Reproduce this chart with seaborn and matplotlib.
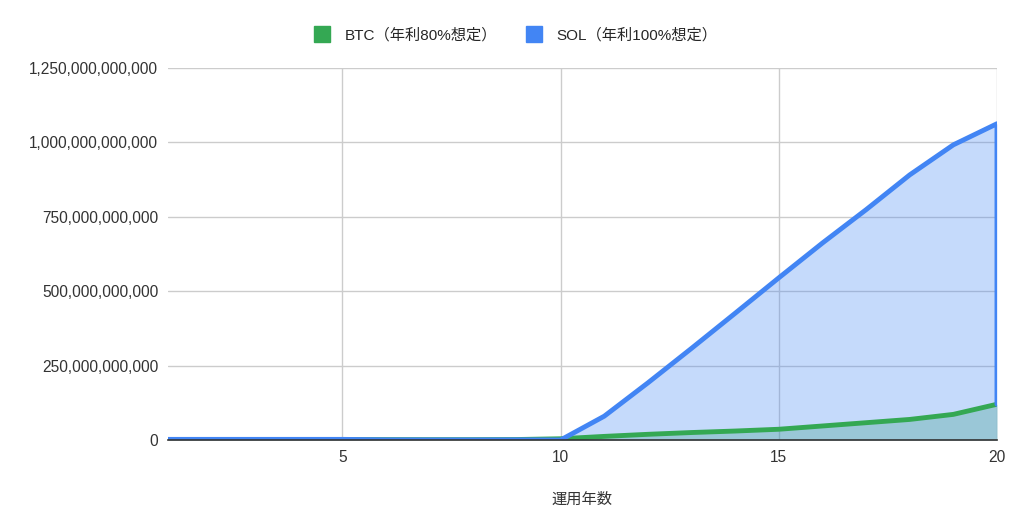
import pandas as pd
import seaborn as sns
import matplotlib.pyplot as plt
from matplotlib.lines import Line2D
from matplotlib.ticker import FuncFormatter, FixedLocator

sns.set_style("white")
plt.rcParams['font.family'] = ['Liberation Sans', 'Noto Sans CJK JP', 'DejaVu Sans']

# 運用年数 (the last year appears twice: the chart's line drops back down at 20)
years = [1, 2, 3, 4, 5, 6, 7, 8, 9, 10, 11, 12, 13, 14, 15, 16, 17, 18, 19, 20, 20]
# values
btc = [1.5e9, 1.5e9, 1.5e9, 1.5e9, 1.5e9, 1.2e9, 1.0e9, 1.0e9, 1.5e9, 4e9,
       12e9, 19e9, 25e9, 30e9, 36e9, 47e9, 58e9, 69e9, 86e9, 120e9, 120e9]
sol = [2e9, 2e9, 2e9, 2e9, 2e9, 0.5e9, 0.3e9, 0.3e9, 0.5e9, 0,
       80e9, 192e9, 308e9, 426e9, 545e9, 662e9, 774e9, 891e9, 992e9, 1063e9, 120e9]
labels = ["BTC（年利80%想定）", "SOL（年利100%想定）"]
colors = ["#34A853", "#4285F4"]
yticks = [0, 250e9, 500e9, 750e9, 1000e9, 1250e9]

df = pd.DataFrame({"year": years * 2,
                   "value": btc + sol,
                   "series": [labels[0]] * len(years) + [labels[1]] * len(years)})

fig = plt.figure(figsize=(10.24, 5.32), dpi=100)
ax = fig.add_axes([0.164, 0.173, 0.8096, 0.699])

# filled areas first, then the lines on top
ax.fill_between(years, btc, color=colors[0], alpha=0.3, lw=0)
ax.fill_between(years, sol, color=colors[1], alpha=0.3, lw=0)
sns.lineplot(data=df, x="year", y="value", hue="series", palette=colors,
             estimator=None, sort=False, units="series", linewidth=3.5,
             legend=False, ax=ax, solid_capstyle="round", solid_joinstyle="round")

ax.set_xlim(1, 20)
ax.set_ylim(0, 1250e9)
ax.xaxis.set_major_locator(FixedLocator([5, 10, 15, 20]))
ax.yaxis.set_major_locator(FixedLocator(yticks))
ax.yaxis.set_major_formatter(FuncFormatter(lambda v, p: f"{v:,.0f}"))
ax.grid(True, color="#cccccc", lw=1)
ax.set_axisbelow(True)
for s in ["left", "right", "top"]:
    ax.spines[s].set_visible(False)
ax.spines["bottom"].set_color("#333333")
ax.spines["bottom"].set_linewidth(1.2)
ax.tick_params(axis="both", length=0, labelsize=11.2, colors="#333333", pad=7)
ax.set_xlabel("運用年数", fontsize=11, color="#333333", labelpad=20)
ax.set_ylabel("")

handles = [Line2D([], [], marker="s", ls="", markersize=11, color=c) for c in colors]
fig.legend(handles, labels, loc="center", bbox_to_anchor=(0.5, 0.934), ncol=2,
           frameon=False, fontsize=11, handletextpad=0.5, columnspacing=1.4)

fig.savefig("out.png", dpi=100)
